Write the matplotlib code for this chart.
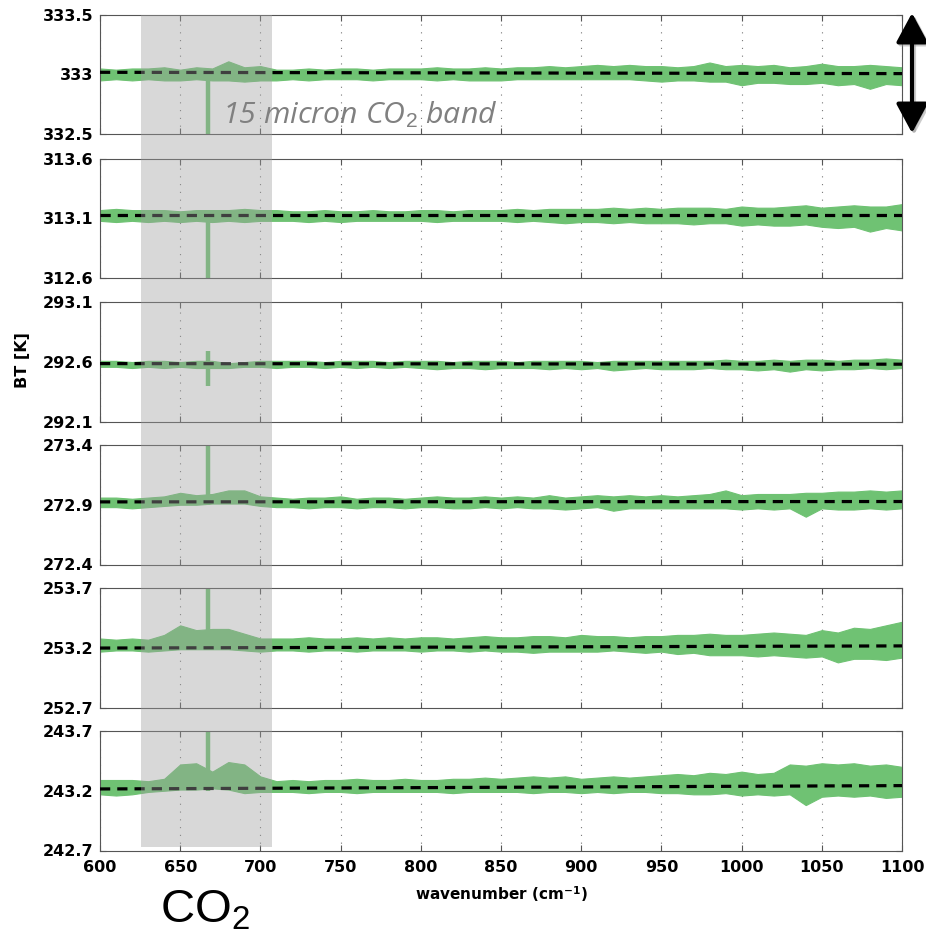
import numpy as np
import matplotlib
matplotlib.use("Agg")
import matplotlib.pyplot as plt
from matplotlib.patches import Rectangle, FancyArrowPatch, ArrowStyle

plt.rcParams["font.family"] = "DejaVu Sans"
plt.rcParams["mathtext.fontset"] = "custom"
plt.rcParams["mathtext.rm"] = "Liberation Sans"
plt.rcParams["mathtext.it"] = "Open Sans:italic"

# sampling grid of the values (cm^-1)
wavenumber = np.arange(600, 1101, 10)

# tick centre of every panel (K), top to bottom
centers = [333.0, 313.1, 292.6, 272.9, 253.2, 243.2]

# green spectrum envelope, offsets from the panel centre in 0.01 K
up1 = [5, 4, 5, 5, 6, 4, 6, 5, 11, 6, 7, 4, 4, 5, 4, 5, 5, 4, 5, 5, 5, 6, 5, 5, 6, 5,
       6, 6, 7, 6, 7, 8, 7, 8, 7, 7, 6, 7, 10, 7, 8, 7, 8, 6, 7, 9, 7, 7, 8, 7, 6]
lo1 = [-5, -4, -5, -4, -5, -5, -4, -5, -5, -6, -5, -5, -4, -5, -4, -4, -4, -5, -4, -4,
       -4, -5, -4, -5, -5, -5, -4, -4, -4, -4, -4, -4, -4, -4, -5, -6, -5, -5, -6, -6,
       -9, -7, -7, -8, -8, -7, -9, -8, -12, -8, -9]
up2 = [7, 8, 7, 7, 7, 6, 7, 7, 7, 8, 7, 7, 6, 6, 7, 6, 6, 7, 6, 6, 7, 7, 6,
       7, 7, 7, 8, 7, 8, 8, 8, 8, 9, 8, 9, 8, 9, 9, 9, 8, 10, 9, 9, 10, 11, 9, 10, 11, 10, 10, 12]
lo2 = [-2, -3, -2, -3, -2, -3, -2, -3, -2, -3, -2, -2, -2, -3, -2, -3, -2, -2, -2, -2, -2, -3, -2,
       -2, -2, -2, -3, -2, -3, -4, -3, -3, -4, -3, -4, -4,
       -4, -5, -4, -4, -6, -5, -6, -6, -5, -7, -8, -7, -11, -8, -10]
up3 = [1, 1, 0, 1, 1, 0, 1, 1, -1, 0, 1, 1, 1, 1, 0, 1, 1, 1, 0, 1, 1, 1, 0,
       1, 1, 1, 0, 1, 1, 1, 1, 0, 1, 1, 1, 1, 1, 1, 1, 2, 1, 1, 2, 1, 2, 2, 1, 2, 2, 3, 2]
lo3 = [-4, -4, -5, -4, -5, -4, -5, -5, -5, -4, -4, -5, -4, -4, -5, -4, -5, -4, -5, -4, -5, -6, -5,
       -5, -6, -5, -5, -5, -6, -5, -6, -5, -7, -6, -5, -6,
       -6, -6, -5, -6, -6, -7, -6, -8, -6, -7, -6, -6, -5, -6, -5]
up4 = [6, 6, 5, 6, 7, 10, 8, 9, 12, 12, 7, 6, 5, 6, 6, 7, 5, 6, 6, 5, 6, 7, 6,
       6, 7, 6, 7, 6, 8, 6, 7, 8, 7, 8, 7, 8, 7, 8, 9, 12, 8, 9, 9, 9, 10, 10, 11, 11, 12, 11, 12]
lo4 = [-2, -2, -3, -2, -1, 0, 0, 1, 1, 1, -1, -2, -2, -3, -2, -2, -3, -2, -2, -3, -2, -2, -3,
       -3, -2, -3, -2, -3, -3, -4, -3, -2, -5, -3, -3, -3,
       -3, -3, -3, -3, -4, -3, -4, -3, -10, -3, -4, -4, -3, -4, -3]
up5 = [8, 7, 8, 7, 11, 19, 15, 16, 16, 12, 8, 8, 8, 9, 8, 8, 9, 8, 9, 8, 9, 9, 8,
       9, 10, 9, 9, 10, 10, 9, 11, 10, 10, 9, 10, 10, 11, 11, 12, 11, 11, 12, 13, 12, 11, 15, 13, 17, 16, 19, 22]
lo5 = [-3, -2, -2, -3, -2, -1, -1, -1, -1, -2, -3, -2, -2, -3, -2, -2, -3, -2, -2, -2, -3, -2, -2,
       -3, -2, -3, -3, -4, -3, -3, -3, -3, -2, -3, -4, -3,
       -5, -4, -6, -6, -6, -7, -6, -7, -8, -7, -12, -9, -9, -10, -8]
up6 = [9, 9, 9, 8, 10, 22, 23, 16, 24, 22, 12, 8, 9, 8, 9, 9, 10, 9, 9, 10, 9, 9, 10,
       10, 11, 10, 11, 12, 11, 12, 10, 11, 12, 11, 12, 13, 14, 13, 15, 14, 16, 14, 15, 22, 21, 23, 22, 23, 21, 22, 20]
lo6 = [-3, -4, -3, -1, 0, 1, 1, 2, 1, -2, -1, -1, -1, -2, -1, -1, -2, -1, -1, -1, -1, -1, -2,
       -1, -1, -1, -1, -2, -1, -1, -2, -1, -2, -1, -1, -2,
       -2, -3, -3, -2, -4, -3, -4, -3, -12, -5, -4, -5, -4, -6, -5]
uppers = [up1, up2, up3, up4, up5, up6]
lowers = [lo1, lo2, lo3, lo4, lo5, lo6]

# narrow CO2 line near 667.5 cm^-1: (bottom, top) offset from centre in K
spike_pos = 667.5
spikes = [(-0.55, 0.0), (-0.5, 0.0), (-0.2, 0.09), (0.0, 0.55), (0.0, 0.55), (0.0, 0.55)]

# black dashed reference, offset from centre in K at 600 and 1100 cm^-1
ref_x = [600, 1100]
ref_off = [(0.018, 0.007), (0.03, 0.03), (-0.013, -0.018), (0.024, 0.027), (0.0, 0.018), (0.015, 0.043)]

green = "#6fc273"
W, H = 926, 934
fig = plt.figure(figsize=(W / 100, H / 100), dpi=100)

tops = [14.7, 158.7, 302.3, 445, 588.3, 731]
ph = 119.5
axes = []
for i, c in enumerate(centers):
    ax = fig.add_axes([100 / W, 1 - (tops[i] + ph) / H, 802 / W, ph / H])
    up = c + np.array(uppers[i]) / 100
    lo = c + np.array(lowers[i]) / 100
    ax.fill_between(wavenumber, lo, up, color=green, lw=0.8, zorder=2)
    ax.plot([spike_pos, spike_pos], [c + spikes[i][0], c + spikes[i][1]], color=green,
            lw=3.2, solid_capstyle="butt", zorder=2)
    ax.plot(ref_x, [c + ref_off[i][0], c + ref_off[i][1]], color="black", lw=2.3,
            dashes=(3.2, 2.2), zorder=3)
    ax.set_xlim(600, 1100)
    ax.set_ylim(c - 0.5, c + 0.5)
    ax.set_yticks([c - 0.5, c, c + 0.5])
    ax.set_yticklabels([f"{v:g}" for v in (round(c - 0.5, 1), c, round(c + 0.5, 1))],
                       fontsize=11.5, fontweight="bold")
    ax.set_xticks(np.arange(600, 1101, 50))
    ax.xaxis.grid(True, color="#777777", linestyle=(0, (1, 6)), lw=0.8)
    ax.tick_params(direction="in", length=4, width=0.8, color="#555555",
                   top=True, right=True, pad=5)
    for s in ax.spines.values():
        s.set_color("#555555")
        s.set_linewidth(0.8)
    if i < 5:
        ax.set_xticklabels([])
    else:
        ax.set_xticklabels([str(v) for v in range(600, 1101, 50)], fontsize=11.5,
                           fontweight="bold")
        ax.tick_params(axis="x", pad=7)
        ax.set_xlabel(r"wavenumber (cm$^{\mathbf{-1}}$)", fontsize=11, fontweight="bold",
                      labelpad=6)
    axes.append(ax)

fig.text(23 / W, 1 - 360 / H, "BT [K]", rotation=90, ha="center", va="center",
         fontsize=11.5, fontweight="bold")

# shaded CO2 band
fig.patches.append(Rectangle((141 / W, 1 - 847 / H), 130.7 / W, 832 / H,
                             transform=fig.transFigure, facecolor="#9f9f9f",
                             alpha=0.4, lw=0, zorder=5))

fig.text(222 / W, 1 - 123 / H, r"15 micron CO$_\mathit{2}$ band", fontsize=21.8,
         family="Open Sans", style="italic", color="#808080", va="baseline", zorder=6)
fig.text(160 / W, 1 - 922 / H, r"CO$_\mathrm{2}$", fontsize=34,
         family="Liberation Sans", va="baseline")

# double-headed arrow at top right
style = ArrowStyle("<|-|>", head_length=18, head_width=9.7)
shadow = FancyArrowPatch((914 / W, 1 - 135 / H), (914 / W, 1 - 15 / H),
                         transform=fig.transFigure, arrowstyle=style, mutation_scale=1,
                         lw=3, color="#999999", alpha=0.5, shrinkA=0, shrinkB=0)
arrow = FancyArrowPatch((912 / W, 1 - 133 / H), (912 / W, 1 - 13 / H),
                        transform=fig.transFigure, arrowstyle=style, mutation_scale=1,
                        lw=3, color="black", shrinkA=0, shrinkB=0)
fig.patches.append(shadow)
fig.patches.append(arrow)

fig.savefig("out.png", dpi=100)
